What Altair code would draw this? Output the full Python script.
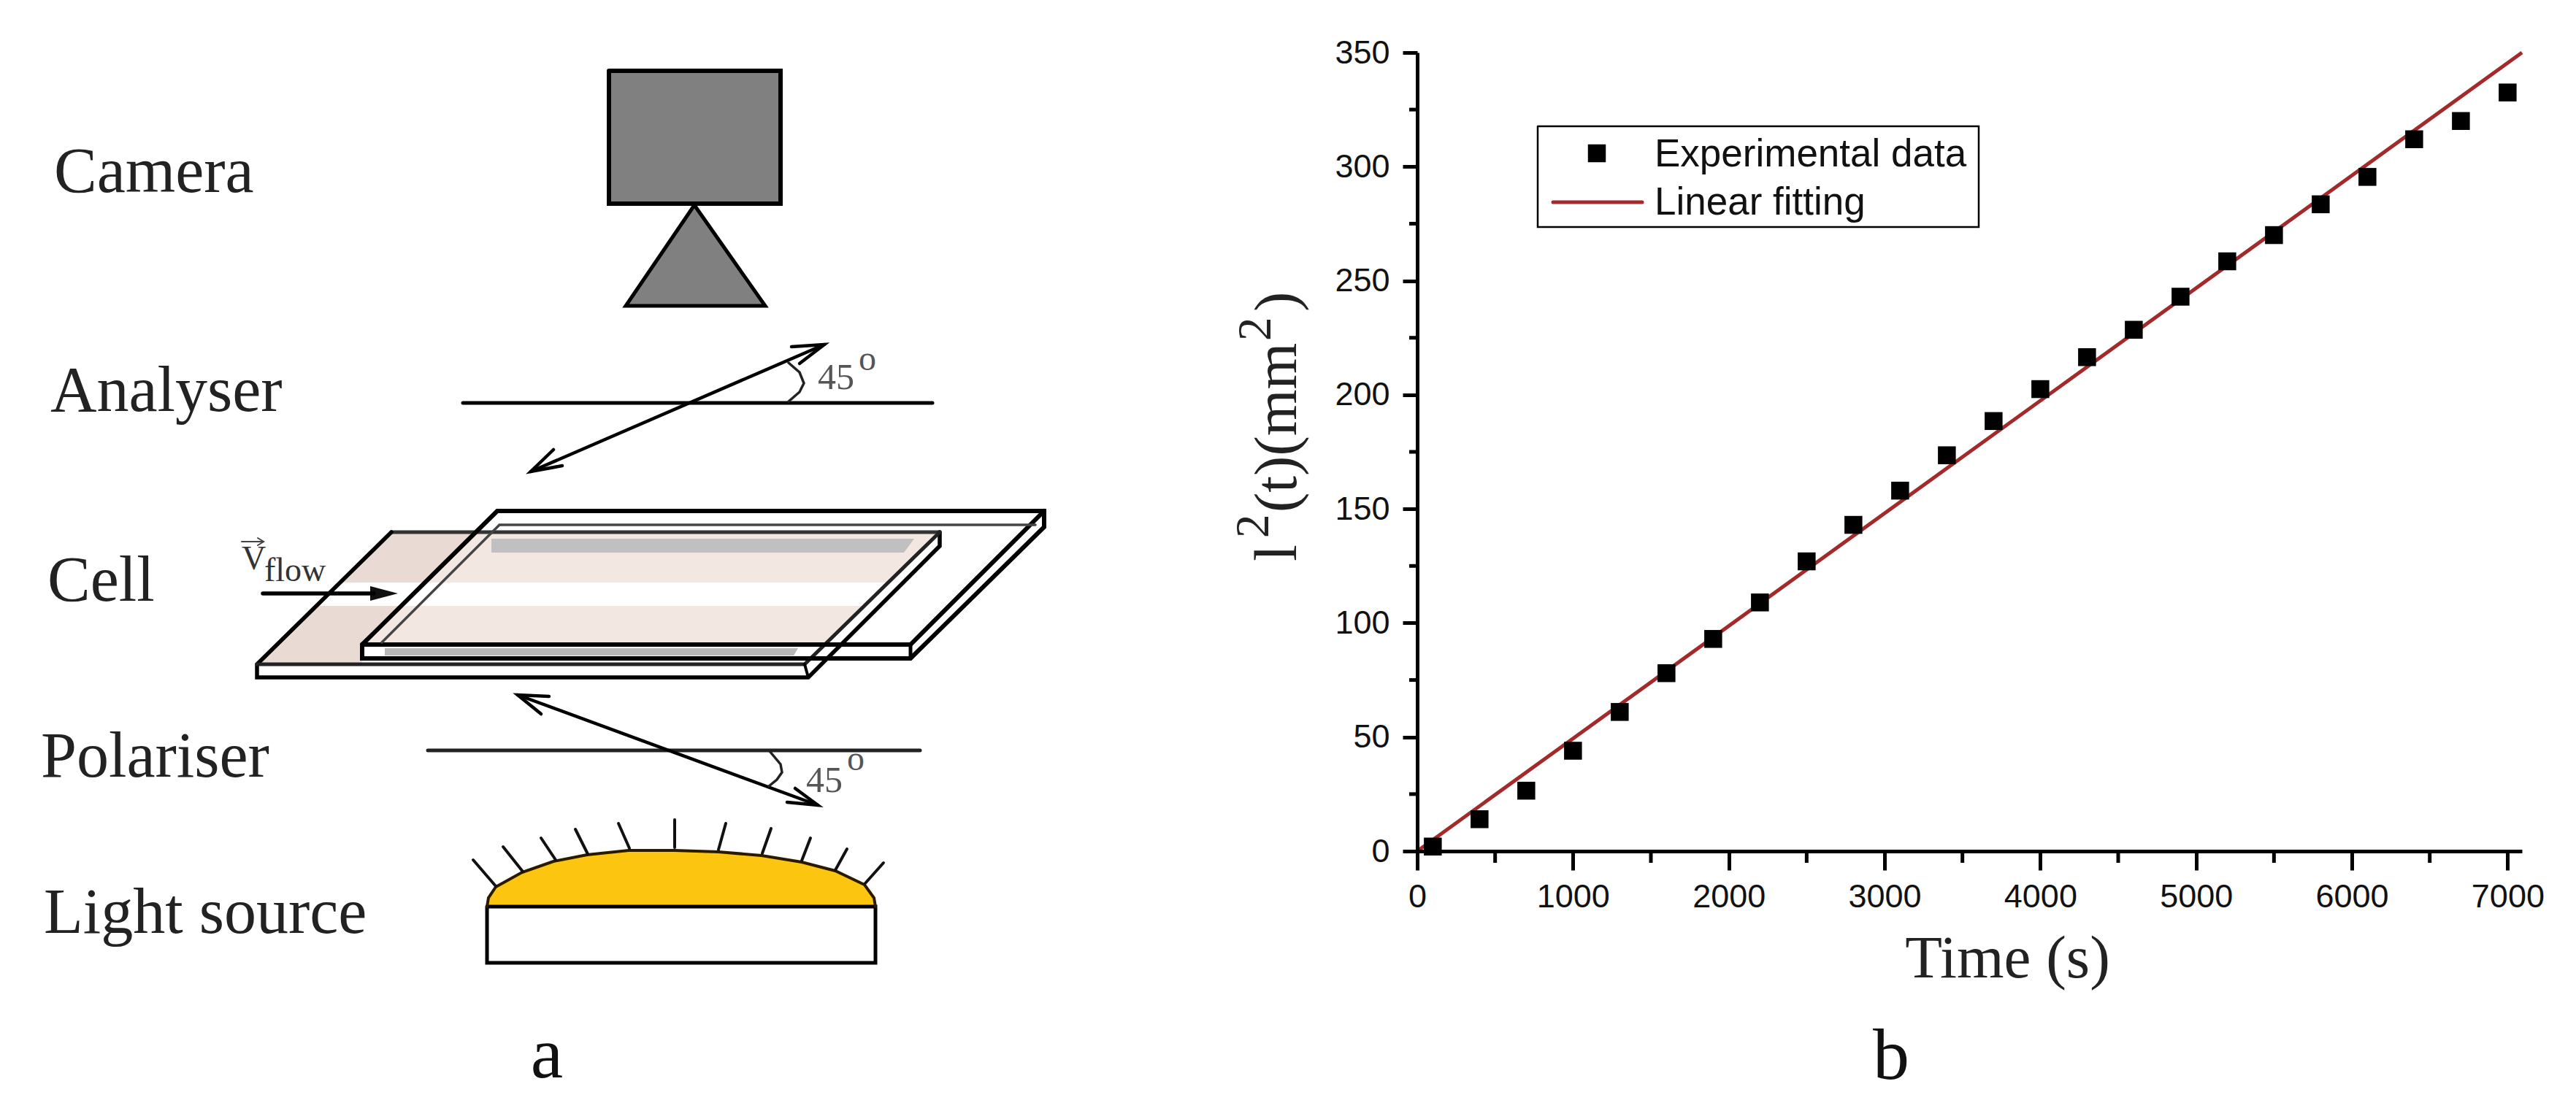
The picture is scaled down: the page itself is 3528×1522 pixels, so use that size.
import altair as alt
import pandas as pd

# panel b values
time_s = [100, 400, 700, 1000, 1300, 1600, 1900, 2200, 2500, 2800, 3100, 3400,
          3700, 4000, 4300, 4600, 4900, 5200, 5500, 5800, 6100, 6400, 6700, 7000]
l2_mm2 = [2, 14, 26.5, 44, 61, 78, 93, 109, 127, 143, 158, 173.5,
          188.5, 202.5, 216.5, 228.5, 243, 258.5, 270, 283.5, 295.5, 312, 320, 332.5]
fit_time = [0, 7092]
fit_l2 = [0, 350]
x_major = [0, 1000, 2000, 3000, 4000, 5000, 6000, 7000]
x_minor = [500, 1500, 2500, 3500, 4500, 5500, 6500]
y_major = [0, 50, 100, 150, 200, 250, 300, 350]
y_minor = [25, 75, 125, 175, 225, 275, 325]

# panel a, in picture coordinates
camera_box_x = [834, 1069, 1069, 834, 834]
camera_box_y = [97, 97, 279, 279, 97]
camera_cone_x = [951, 1048, 857, 951]
camera_cone_y = [281, 419, 419, 281]
analyser_x = [634, 1277]
analyser_y = [552, 552]
analyser_arrow_x = [727, 1129]
analyser_arrow_y = [646, 472]
analyser_barbs = [([1084, 1129, 1095], [475, 472, 498]), ([758, 727, 770], [616, 646, 638])]
analyser_arc_x = [1080, 1095, 1101, 1095, 1080]
analyser_arc_y = [497, 510, 525, 537, 550]
polariser_x = [586, 1260]
polariser_y = [1028, 1028]
polariser_arrow_x = [709, 1120]
polariser_arrow_y = [952, 1103]
polariser_barbs = [([752, 709, 741], [954, 952, 978]), ([1089, 1120, 1078], [1080, 1103, 1099])]
polariser_arc_x = [1054, 1069, 1071, 1064, 1053]
polariser_arc_y = [1029, 1047, 1058, 1068, 1077]
dome_x = [667, 669, 679, 715, 758, 804, 861, 924, 984, 1043, 1098, 1144, 1184, 1197, 1199]
dome_y = [1242, 1230, 1215, 1195, 1180, 1171, 1165, 1165, 1167, 1172, 1181, 1193, 1212, 1230, 1242]
lamp_x = [667, 1199, 1199, 667, 667]
lamp_y = [1242, 1242, 1319, 1319, 1242]
ray_x0 = [648, 689, 741, 788, 847, 924, 994, 1056, 1110, 1160, 1210]
ray_y0 = [1178, 1160, 1148, 1136, 1128, 1123, 1128, 1135, 1148, 1163, 1182]
ray_x1 = [679, 716, 761, 805, 862, 924, 984, 1044, 1098, 1144, 1185]
ray_y1 = [1214, 1194, 1178, 1170, 1162, 1161, 1164, 1169, 1179, 1192, 1210]

labels = ["Camera", "Analyser", "Cell", "Polariser", "Light source"]
labels_x = [74, 69, 65, 56, 60]
labels_y = [263, 563, 823, 1064, 1278]

pic_x = alt.Scale(domain=[8, 3520], range=[0, 3512], nice=False, zero=False)
pic_y = alt.Scale(domain=[8, 1514], range=[0, 1506], nice=False, zero=False)
time_scale = alt.Scale(domain=[0, 7092], range=[1933, 3446], nice=False)
l2_scale = alt.Scale(domain=[0, 350], range=[1158, 64], nice=False)

rows = []


def add(xs, ys, w=5, c="#000000"):
    g = len(set(r["g"] for r in rows))
    for i, (x, y) in enumerate(zip(xs, ys)):
        rows.append({"g": g, "i": i, "x": x, "y": y, "w": w, "c": c})


def fill_h(ys, xs, x2s, colour):
    d = pd.DataFrame({"y": ys, "x": xs, "x2": x2s})
    return alt.Chart(d).mark_area(orient="horizontal", color=colour).encode(
        y=alt.Y("y:Q", scale=pic_y, axis=None),
        x=alt.X("x:Q", scale=pic_x, axis=None),
        x2="x2:Q",
    )


def text(words, xs, ys, size, font="Liberation Serif", colour="#222222", align="left", angle=0):
    d = pd.DataFrame({"t": words, "x": xs, "y": ys})
    return alt.Chart(d).mark_text(
        font=font, fontSize=size, color=colour, align=align, baseline="alphabetic", angle=angle
    ).encode(
        x=alt.X("x:Q", scale=pic_x, axis=None),
        y=alt.Y("y:Q", scale=pic_y, axis=None),
        text="t:N",
    )


fills = [
    fill_h([97, 279], [834, 834], [1069, 1069], "#808080"),
    fill_h([281, 419], [951, 857], [951, 1048], "#808080"),
    # cell, left part of the lower plate
    fill_h([729, 798], [536, 466], [652, 582], "#e9dbd3"),
    fill_h([830, 883, 908], [433, 379, 352], [550, 496, 496], "#e9dbd3"),
    # cell, under the upper plate
    fill_h([729, 798], [652, 582], [1288, 1218], "#f2e8e1"),
    fill_h([830, 883], [550, 496], [1185, 1131], "#f2e8e1"),
    fill_h([738, 757], [673, 673], [1252, 1238], "#c0c0c0"),
    fill_h([888, 898], [527, 527], [1093, 1087], "#b8b8b8"),
    fill_h([803, 813, 823], [507, 507, 507], [507, 545, 507], "#111111"),
]

dome = alt.Chart(pd.DataFrame({"x": dome_x, "y": dome_y, "y2": [1242] * len(dome_x)})).mark_area(
    color="#fcc50f"
).encode(
    x=alt.X("x:Q", scale=pic_x, axis=None),
    y=alt.Y("y:Q", scale=pic_y, axis=None),
    y2="y2:Q",
)

add(camera_box_x, camera_box_y, 6)
add(camera_cone_x, camera_cone_y, 5)
add(analyser_x, analyser_y, 5)
add(analyser_arrow_x, analyser_arrow_y, 4.5)
for bx, by in analyser_barbs:
    add(bx, by, 4.5)
add(analyser_arc_x, analyser_arc_y, 3.5, "#222222")
add(polariser_x, polariser_y, 5, "#222222")
add(polariser_arrow_x, polariser_arrow_y, 4.5)
for bx, by in polariser_barbs:
    add(bx, by, 4.5)
add(polariser_arc_x, polariser_arc_y, 3.5, "#222222")

# cell, lower plate
add([536, 1287], [729, 729], 5, "#333333")
add([536, 352, 352, 1107, 1287, 1287], [729, 910, 928, 928, 748, 729], 5.5)
add([352, 1102, 1287], [910, 910, 729], 5, "#222222")
add([1102, 1107], [910, 928], 4)
# cell, upper plate
add([496, 681, 1430, 1430, 1247, 496, 496], [883, 700, 700, 722, 902, 902, 883], 6)
add([496, 1247, 1430], [883, 883, 700], 6)
add([1247, 1247], [883, 902], 5)
add([523, 684, 1418], [880, 719, 719], 3.5, "#444444")
# flow arrow
add([360, 512], [813, 813], 5.5)
add([331, 361], [742, 742], 2, "#444444")
add([353, 361, 353], [737, 742, 747], 2, "#444444")

# lamp
add(lamp_x, lamp_y, 5)
add(dome_x, dome_y, 4, "#2a1a00")
for x0, y0, x1, y1 in zip(ray_x0, ray_y0, ray_x1, ray_y1):
    add([x0, x1], [y0, y1], 4, "#111111")

# legend frame and its line
add([2106, 2710, 2710, 2106, 2106], [173, 173, 311, 311, 173], 2.5)
add([2127, 2249], [277, 277], 5, "#a32a2a")

outlines = alt.Chart(pd.DataFrame(rows)).mark_line(strokeCap="round", strokeJoin="miter").encode(
    x=alt.X("x:Q", scale=pic_x, axis=None),
    y=alt.Y("y:Q", scale=pic_y, axis=None),
    detail="g:N",
    order="i:Q",
    strokeWidth=alt.StrokeWidth("w:Q", scale=None),
    color=alt.Color("c:N", scale=None),
)

words = [
    text(labels, labels_x, labels_y, 88),
    text(["45", "45"], [1120, 1104], [533, 1085], 50, colour="#555555"),
    text(["o", "o"], [1176, 1160], [507, 1055], 48, colour="#555555"),
    text(["V"], [331], [780], 46, colour="#333333"),
    text(["flow"], [362], [796], 46, colour="#333333"),
    text(["a", "b"], [749, 2590], [1476, 1478], 100, colour="#111111", align="center"),
    text(["l", "(t)(mm", ")"], [1775, 1775, 1775], [769, 702, 427], 82, angle=270),
    text(["2", "2"], [1737, 1740], [737, 467], 65, angle=270),
    text(["Experimental data", "Linear fitting"], [2266, 2266], [228, 294], 53,
         font="Liberation Sans", colour="#111111"),
]

legend_square = alt.Chart(pd.DataFrame({"x": [2187], "y": [210]})).mark_square(
    size=600, color="#000000", opacity=1
).encode(
    x=alt.X("x:Q", scale=pic_x, axis=None),
    y=alt.Y("y:Q", scale=pic_y, axis=None),
)

# panel b, on its own scales
fit_line = alt.Chart(pd.DataFrame({"t": fit_time, "l2": fit_l2})).mark_line(
    color="#a32a2a", strokeWidth=5
).encode(
    x=alt.X("t:Q", scale=time_scale, axis=None),
    y=alt.Y("l2:Q", scale=l2_scale, axis=None),
)

points = alt.Chart(pd.DataFrame({"t": time_s, "l2": l2_mm2})).mark_square(
    size=600, color="#000000", opacity=1
).encode(
    x=alt.X(
        "t:Q",
        scale=time_scale,
        axis=alt.Axis(
            orient="bottom", offset=-348, values=x_major, format="d", grid=False,
            title="Time (s)", titleFont="Liberation Serif", titleFontSize=83, titleFontWeight="normal",
            titleColor="#222222", titleX=2741, titleY=172, titleBaseline="alphabetic",
            titleAnchor="middle", titleAlign="center",
            labelFont="Liberation Sans", labelFontSize=45, labelColor="#111111", labelPadding=14,
            labelOverlap=False, labelFlush=False, labelBound=False,
            tickSize=26, tickWidth=5, tickColor="#000000",
            domainWidth=5, domainColor="#000000", zindex=1,
        ),
    ),
    y=alt.Y(
        "l2:Q",
        scale=l2_scale,
        axis=alt.Axis(
            orient="left", offset=-1933, values=y_major, format="d", grid=False, title=None,
            labelFont="Liberation Sans", labelFontSize=45, labelColor="#111111", labelPadding=18,
            labelOverlap=False, labelFlush=False, labelBound=False,
            tickSize=20, tickWidth=5, tickColor="#000000",
            domainWidth=5, domainColor="#000000", zindex=1,
        ),
    ),
)

x_minor_ticks = alt.Chart(pd.DataFrame({"t": x_minor})).mark_rule(color="#000000", strokeWidth=5).encode(
    x=alt.X("t:Q", scale=time_scale, axis=None),
    y=alt.value(1158),
    y2=alt.value(1174),
)
y_minor_ticks = alt.Chart(pd.DataFrame({"l2": y_minor})).mark_rule(color="#000000", strokeWidth=5).encode(
    y=alt.Y("l2:Q", scale=l2_scale, axis=None),
    x=alt.value(1922),
    x2=alt.value(1933),
)

chart = alt.layer(
    *fills, dome, outlines, *words, legend_square, x_minor_ticks, y_minor_ticks, fit_line, points
).resolve_scale(x="independent", y="independent").properties(
    width=3512, height=1506, padding=0, background="#ffffff"
).configure_view(stroke=None)

chart.save("out.html", embed_options={"renderer": "svg", "actions": False})
